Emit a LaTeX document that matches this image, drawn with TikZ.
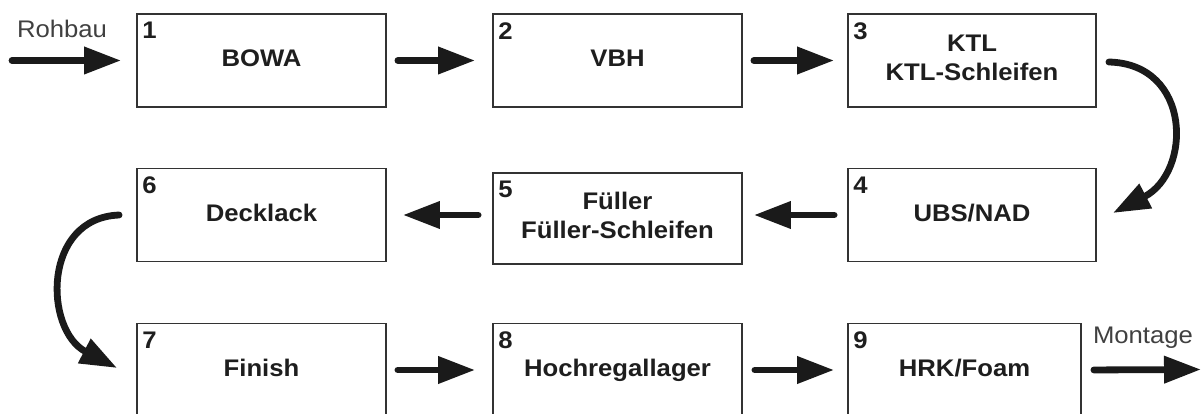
\documentclass[tikz,border=0pt]{standalone}
\usepackage{fontspec}
\setmainfont{Liberation Sans}[FakeStretch=1.07]
\usetikzlibrary{arrows.meta}
\definecolor{ink}{HTML}{1E1E1E}
\definecolor{frame}{HTML}{333333}
\definecolor{arrowc}{HTML}{1A1A1A}
\newcommand{\twoline}[2]{\raisebox{-3pt}{\begin{tabular}{@{}c@{}}#1\\#2\end{tabular}}}
\begin{document}
\begin{tikzpicture}[x=1pt,y=-1pt,
 box/.style={draw=frame, line width=1.8pt, minimum width=249pt, minimum height=93pt, inner sep=0pt, text=ink, font=\fontsize{24}{29}\selectfont\bfseries, align=center},
 one/.style={text height=17.5pt, text depth=5pt},
 num/.style={anchor=north west, inner sep=0pt, text=ink, font=\fontsize{24}{28}\selectfont\bfseries},
 lab/.style={inner sep=0pt, text=ink!85, font=\fontsize{24}{29}\selectfont},
 arr/.style={draw=arrowc, line width=6.8pt, line cap=round, -{Triangle[length=37pt,width=26pt]}},
]
\useasboundingbox (0,0) rectangle (1201,414);
% boxes
\node[box, one] (b1) at (261.5,60.5) {BOWA};
\node[box, one] (b2) at (617.5,60.5) {VBH};
\node[box, minimum width=248pt] (b3) at (972,60.5) {\twoline{KTL}{KTL-Schleifen}};
\node[box, one, minimum width=248pt] (b4) at (972,215) {UBS/NAD};
\node[box, minimum height=91pt] (b5) at (617.5,218.5) {\twoline{Füller}{Füller-Schleifen}};
\node[box, one] (b6) at (261.5,215) {Decklack};
\node[box, one] (b7) at (261.5,370) {Finish};
\node[box, one] (b8) at (617.5,370) {Hochregallager};
\node[box, one, minimum width=233pt] (b9) at (964.5,370) {HRK/Foam};
% numbers
\node[num] (n1) at ([shift={(6pt,-9pt)}]b1.north west) {1};
\node[num] (n2) at ([shift={(6pt,-9pt)}]b2.north west) {2};
\node[num] (n3) at ([shift={(6pt,-9pt)}]b3.north west) {3};
\node[num] (n4) at ([shift={(6pt,-9pt)}]b4.north west) {4};
\node[num] (n5) at ([shift={(6pt,-9pt)}]b5.north west) {5};
\node[num] (n6) at ([shift={(6pt,-9pt)}]b6.north west) {6};
\node[num] (n7) at ([shift={(6pt,-9pt)}]b7.north west) {7};
\node[num] (n8) at ([shift={(6pt,-9pt)}]b8.north west) {8};
\node[num] (n9) at ([shift={(6pt,-9pt)}]b9.north west) {9};
% outer labels
\node[lab] (lr) at (62,29) {Rohbau};
\node[lab] (lm) at (1143,338) {Montage};
% straight connectors
\coordinate (cin) at (12,60.5);
\coordinate (cout) at (1201,369.5);
\draw[arr, shorten >=15pt] (cin) -- (b1.west);
\draw[arr, shorten <=11pt, shorten >=17pt] (b1) -- (b2);
\draw[arr, shorten <=11pt, shorten >=13pt] (b2) -- (b3);
\draw[arr, shorten <=13pt, shorten >=11pt] (b4.west) -- (b5.east |- b4.west);
\draw[arr, shorten <=14pt, shorten >=16pt] (b5.west |- b6.east) -- (b6.east);
\draw[arr, shorten <=11pt, shorten >=17pt] (b7) -- (b8);
\draw[arr, shorten <=12pt, shorten >=13pt] (b8) -- (b9);
\draw[arr, shorten <=12pt] (b9.east) -- (cout);
% curved connectors
\draw[arr] ([xshift=12pt,yshift=-1.5pt]b3.east) .. controls (1192,64) and (1192,172) .. ([xshift=16pt,yshift=2pt]b4.east);
\draw[arr] ([xshift=-17pt]b6.west) .. controls (42,218) and (44,330) .. ([xshift=-19pt,yshift=2pt]b7.west);
\end{tikzpicture}
\end{document}
